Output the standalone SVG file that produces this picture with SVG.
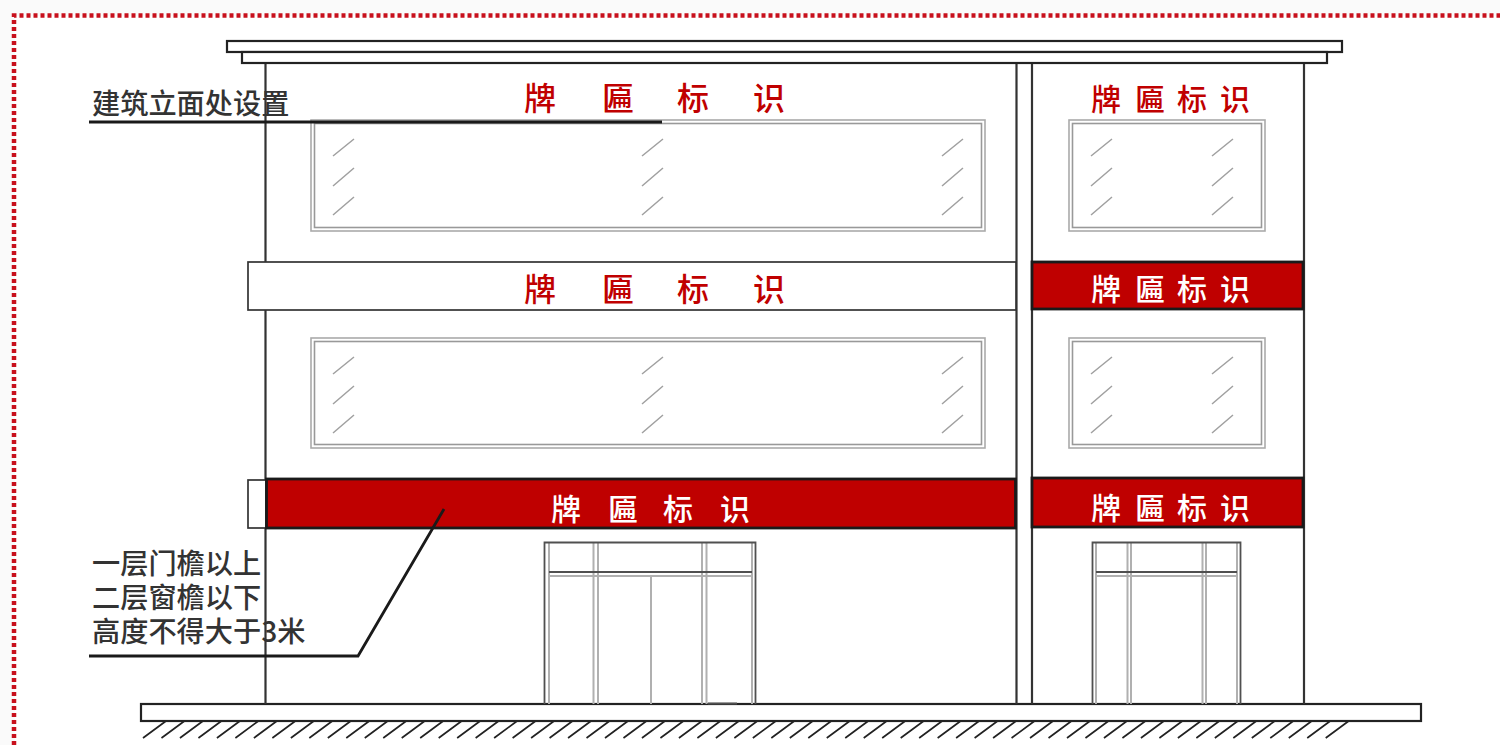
<svg xmlns="http://www.w3.org/2000/svg" xmlns:xlink="http://www.w3.org/1999/xlink" width="1500" height="745" viewBox="0 0 1500 745">
<style>
.l{fill:none;stroke:#333;stroke-width:2.200}
.k{fill:#fff;stroke:#222;stroke-width:2.200}
.sign{fill:#fff;stroke:#333;stroke-width:1.700}
.red{fill:#bf0000;stroke:#1a1a1a;stroke-width:2.800}
.wo{fill:#fff;stroke:#aaa;stroke-width:1.600}
.wi{fill:none;stroke:#999;stroke-width:1.600}
.sl{fill:none;stroke:#a0a0a0;stroke-width:1.500}
.dl{fill:none;stroke:#b0b0b0;stroke-width:2}
.dd{fill:none;stroke:#505050;stroke-width:1.800}
.lead{fill:none;stroke:#1a1a1a;stroke-width:2.800}
text{font-family:"Noto Sans CJK SC","Noto Sans",sans-serif;font-weight:500}
.note{font-size:28.200px;fill:#333}
.sr{fill:#c00000}
.sw{fill:#fff}
.big{font-size:32px}
.mid{font-size:30px}
</style>
<defs>
<g id="slash"><path class="sl" d="M333 156L354 139M333 186L354 168M333 215L354 197"/></g>
</defs>
<rect width="1500" height="745" fill="#fafafa"/>
<rect x="15" y="16" width="1485" height="729" fill="#fff"/>
<path d="M14 745V15.500H1500" fill="none" stroke="#c8101c" stroke-width="4.500" stroke-dasharray="4 3"/>

<g id="ground">
<path fill="none" stroke="#222" stroke-width="1.700" d="M143 738l23-17m-4.520 17l23-17m-4.520 17l23-17m-4.520 17l23-17m-4.520 17l23-17m-4.520 17l23-17m-4.520 17l23-17m-4.520 17l23-17m-4.520 17l23-17m-4.520 17l23-17m-4.520 17l23-17m-4.520 17l23-17m-4.520 17l23-17m-4.520 17l23-17m-4.520 17l23-17m-4.520 17l23-17m-4.520 17l23-17m-4.520 17l23-17m-4.520 17l23-17m-4.520 17l23-17m-4.520 17l23-17m-4.520 17l23-17m-4.520 17l23-17m-4.520 17l23-17m-4.520 17l23-17m-4.520 17l23-17m-4.520 17l23-17m-4.520 17l23-17m-4.520 17l23-17m-4.520 17l23-17m-4.520 17l23-17m-4.520 17l23-17m-4.520 17l23-17m-4.520 17l23-17m-4.520 17l23-17m-4.520 17l23-17m-4.520 17l23-17m-4.520 17l23-17m-4.520 17l23-17m-4.520 17l23-17m-4.520 17l23-17m-4.520 17l23-17m-4.520 17l23-17m-4.520 17l23-17m-4.520 17l23-17m-4.520 17l23-17m-4.520 17l23-17m-4.520 17l23-17m-4.520 17l23-17m-4.520 17l23-17m-4.520 17l23-17m-4.520 17l23-17m-4.520 17l23-17m-4.520 17l23-17m-4.520 17l23-17m-4.520 17l23-17m-4.520 17l23-17m-4.520 17l23-17m-4.520 17l23-17m-4.520 17l23-17m-4.520 17l23-17m-4.520 17l23-17m-4.520 17l23-17m-4.520 17l23-17m-4.520 17l23-17"/>
<rect class="k" x="141" y="704" width="1280" height="17"/>
</g>

<g id="walls">
<path class="l" d="M265.500 63V704M1016.500 63V704M1032 63V704M1304 63V704"/>
</g>

<g id="roof">
<rect class="k" x="227" y="41" width="1115" height="11"/>
<rect class="k" x="242" y="52" width="1085" height="11"/>
</g>

<g id="window-1">
<rect class="wo" x="311" y="120" width="674" height="111"/><rect class="wi" x="314.500" y="123.500" width="667" height="104"/>
<use xlink:href="#slash" href="#slash"/><use xlink:href="#slash" href="#slash" x="309"/><use xlink:href="#slash" href="#slash" x="609"/>
</g>
<g id="window-2">
<rect class="wo" x="1069" y="120" width="196" height="111"/><rect class="wi" x="1072.500" y="123.500" width="189" height="104"/>
<use xlink:href="#slash" href="#slash" x="758"/><use xlink:href="#slash" href="#slash" x="879"/>
</g>
<g id="window-3">
<rect class="wo" x="311" y="338" width="674" height="110"/><rect class="wi" x="314.500" y="341.500" width="667" height="103"/>
<use xlink:href="#slash" href="#slash" y="218"/><use xlink:href="#slash" href="#slash" x="309" y="218"/><use xlink:href="#slash" href="#slash" x="609" y="218"/>
</g>
<g id="window-4">
<rect class="wo" x="1069" y="338" width="196" height="110"/><rect class="wi" x="1072.500" y="341.500" width="189" height="103"/>
<use xlink:href="#slash" href="#slash" x="758" y="218"/><use xlink:href="#slash" href="#slash" x="879" y="218"/>
</g>

<g id="sign-top-left">
<text class="sr big" x="524 602 677 753" y="110">牌匾标识</text>
</g>
<g id="sign-top-right">
<text class="sr mid" x="1091 1135 1177 1220" y="110">牌匾标识</text>
</g>
<g id="sign-mid-left">
<rect class="sign" x="248" y="262" width="768" height="48"/>
<text class="sr big" x="524 602 677 753" y="301">牌匾标识</text>
</g>
<g id="sign-mid-right">
<rect class="red" x="1032" y="262" width="271" height="47"/>
<text class="sw mid" x="1091 1135 1177 1220" y="300">牌匾标识</text>
</g>
<g id="sign-low-left">
<rect class="sign" x="248" y="480" width="18" height="48"/>
<rect class="red" x="266.500" y="479" width="749" height="49"/>
<text class="sw mid" x="551 608 663 720" y="520">牌匾标识</text>
</g>
<g id="sign-low-right">
<rect class="red" x="1032" y="478" width="271" height="49"/>
<text class="sw mid" x="1091 1135 1177 1220" y="519">牌匾标识</text>
</g>

<g id="door-left">
<path class="dl" d="M549 542V704M593.500 542V704M598 542V704M651 576V704M702 542V704M706.500 542V704M752 542V704M549 576H752"/>
<path class="dd" d="M544.500 704V542.500H755.500V704M549 572H752M708 703.500H737"/>
</g>
<g id="door-right">
<path class="dl" d="M1096 542V704M1127.500 542V704M1131 542V704M1202.500 542V704M1206 542V704M1237 542V704M1096 576H1237"/>
<path class="dd" d="M1092.500 704V542.500H1240.500V704M1096 572H1237"/>
</g>

<g id="connectors">
<path class="lead" d="M89 122H662"/>
<path class="lead" d="M89 656H358L444 509"/>
</g>

<g id="note-top">
<text class="note" x="92" y="114">建筑立面处设置</text>
</g>
<g id="note-bottom">
<text class="note"><tspan x="92" y="574">一层门檐以上</tspan><tspan x="92" y="608">二层窗檐以下</tspan><tspan x="92" y="642">高度不得大于3米</tspan></text>
</g>
</svg>
